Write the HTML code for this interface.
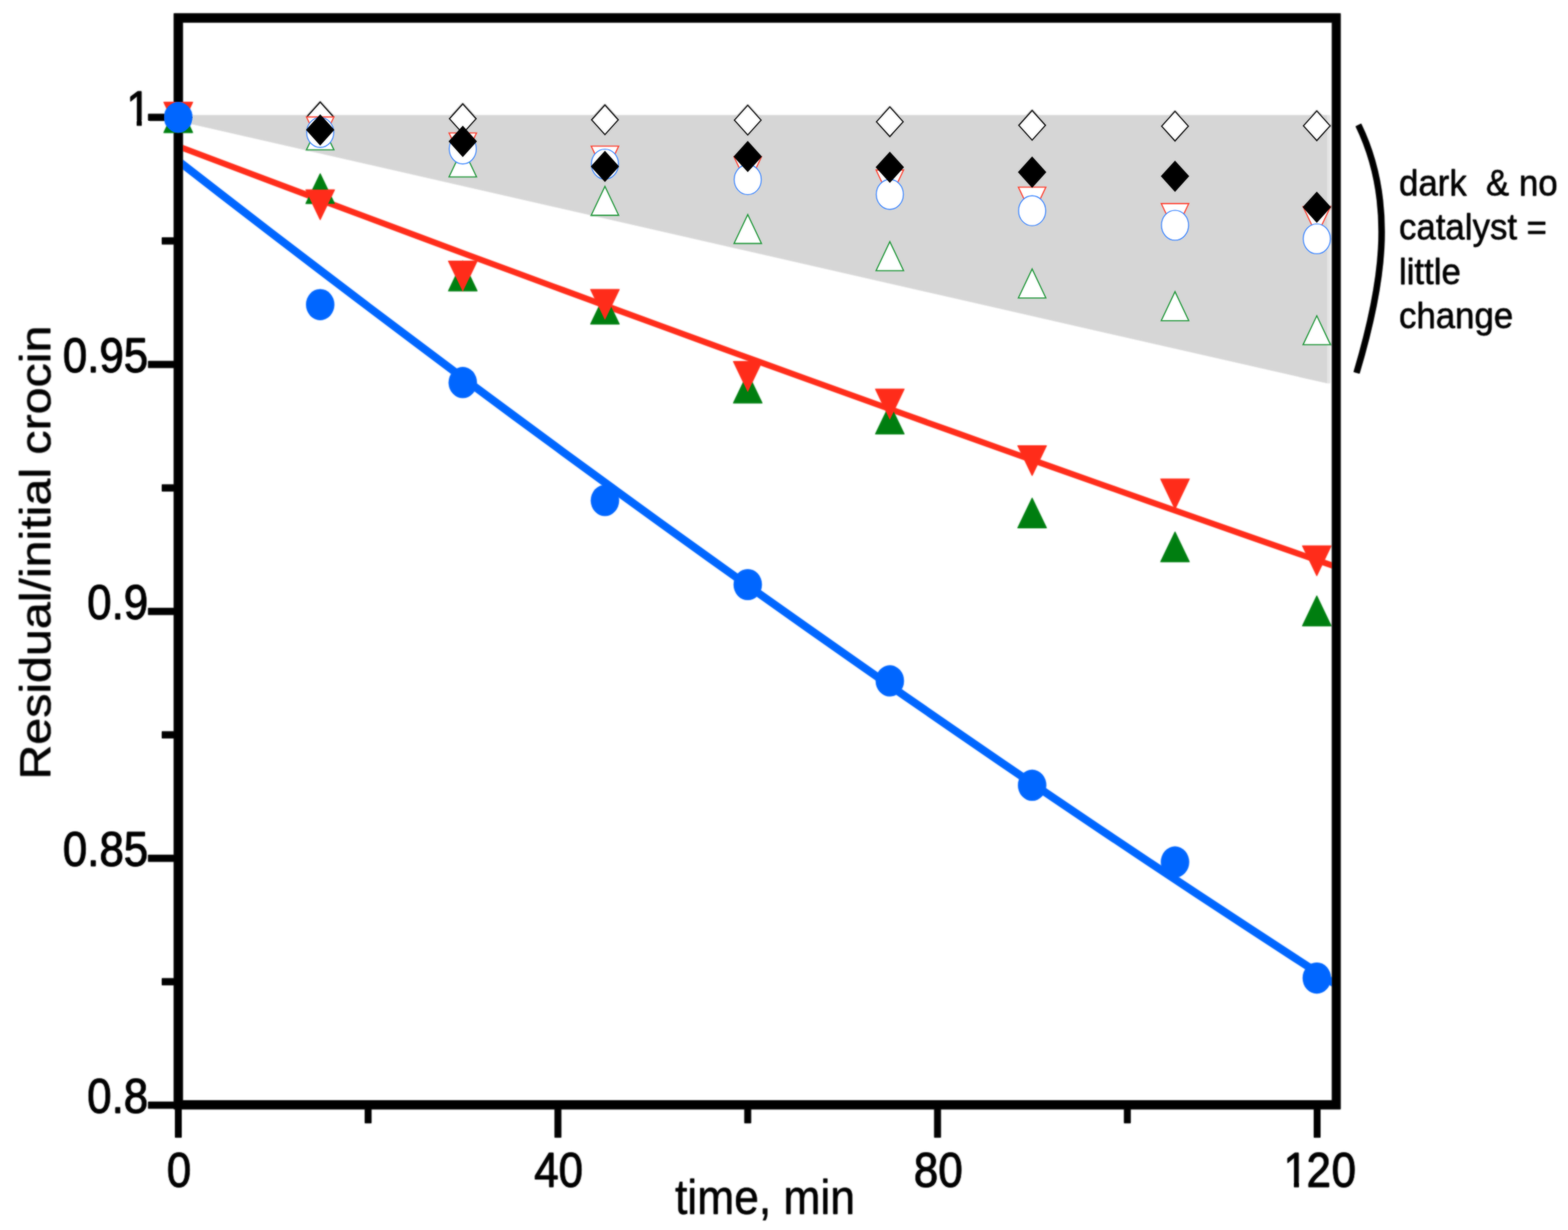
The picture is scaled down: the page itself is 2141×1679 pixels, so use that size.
<!DOCTYPE html>
<html lang="en"><head><meta charset="utf-8">
<title>Residual/initial crocin vs time</title>
<style>
html,body{margin:0;padding:0;background:#fff;}
body{width:2141px;height:1679px;overflow:hidden;}
svg{display:block;}
text{font-family:"Liberation Sans",sans-serif;fill:#000;stroke:#000;stroke-width:0.25px;stroke-linejoin:round;}
.ax{font-size:66.5px;}
.dg{font-size:66.5px;stroke-width:0.9px;}
.note{font-size:49.7px;stroke-width:0.3px;}
.ttl{font-size:66px;}
.soft{filter:blur(0.8px);}
</style></head><body>
<svg xmlns="http://www.w3.org/2000/svg" width="2141" height="1679" viewBox="0 0 2141 1679">
<rect x="0" y="0" width="2141" height="1679" fill="#fff"/>
<defs><clipPath id="plot"><rect x="249.65" y="30.65" width="1569" height="1471.3"/></clipPath></defs>
<g class="soft"><g id="fig">
<g id="shade">
<polygon points="249.65,157.3 1812.2,157.3 1812.2,523.091 249.65,166.518" fill="#d6d6d6"/>
<rect x="1812.2" y="157.3" width="4" height="365.791" fill="#e4e4e4"/>
</g>
<g id="fits" fill="none" clip-path="url(#plot)">
<polyline points="236,196.963 302.625,222.15 369.25,247.25 435.875,272.263 502.5,297.189 569.125,322.029 635.75,346.782 702.375,371.448 769,396.027 835.625,420.519 902.25,444.925 968.875,469.243 1035.5,493.475 1102.125,517.62 1168.75,541.678 1235.375,565.65 1302,589.534 1368.625,613.332 1435.25,637.043 1501.875,660.667 1568.5,684.204 1635.125,707.655 1701.75,731.018 1768.375,754.295 1835,777.485" stroke="#ff2d1a" stroke-width="7.8"/>
<polyline points="236,213.904 302.625,265.621 369.25,316.96 435.875,367.922 502.5,418.506 569.125,468.712 635.75,518.54 702.375,567.991 769,617.064 835.625,665.759 902.25,714.076 968.875,762.016 1035.5,809.577 1102.125,856.762 1168.75,903.568 1235.375,949.997 1302,996.047 1368.625,1041.721 1435.25,1087.016 1501.875,1131.934 1568.5,1176.474 1635.125,1220.636 1701.75,1264.42 1768.375,1307.827 1835,1350.856" stroke="#0066ff" stroke-width="10.3"/>
</g>
<g id="labels">
<text class="dg" text-anchor="start" transform="translate(172.4 170.8) scale(0.9 1)" xml:space="preserve">1</text>
<rect x="174.459" y="163.882" width="12.136" height="9.918" fill="#fff"/><rect x="193.595" y="163.882" width="10.769" height="9.918" fill="#fff"/>
<text class="dg" text-anchor="end" transform="translate(202.3 508.1) scale(0.9 1)" xml:space="preserve">0.95</text>
<text class="dg" text-anchor="end" transform="translate(202.3 845.2) scale(0.9 1)" xml:space="preserve">0.9</text>
<text class="dg" text-anchor="end" transform="translate(202.3 1182.2) scale(0.9 1)" xml:space="preserve">0.85</text>
<text class="dg" text-anchor="end" transform="translate(202.3 1519.2) scale(0.9 1)" xml:space="preserve">0.8</text>
<text class="dg" text-anchor="middle" transform="translate(244.5 1620.4) scale(0.9 1)" xml:space="preserve">0</text>
<text class="dg" text-anchor="middle" transform="translate(762.82 1620.4) scale(0.9 1)" xml:space="preserve">40</text>
<text class="dg" text-anchor="middle" transform="translate(1281.14 1620.4) scale(0.9 1)" xml:space="preserve">80</text>
<text class="dg" text-anchor="start" transform="translate(1752.5 1620.4) scale(0.9 1)" dx="0 -1.889 0.889">120</text>
<rect x="1754.559" y="1613.482" width="12.136" height="9.918" fill="#fff"/><rect x="1773.695" y="1613.482" width="10.769" height="9.918" fill="#fff"/>
<text class="ax" text-anchor="middle" transform="translate(1044.6 1657) scale(0.911 1)">time, min</text>
<text class="ttl" text-anchor="middle" transform="translate(68.3 754.3) rotate(-90) scale(1 0.91)" xml:space="preserve">Residual/initial crocin</text>
<text class="note" text-anchor="start" transform="translate(1910.2 266.8) scale(0.957 1)" xml:space="preserve">dark  &amp; no</text>
<text class="note" text-anchor="start" transform="translate(1910.2 327.3) scale(0.957 1)" xml:space="preserve">catalyst =</text>
<text class="note" text-anchor="start" transform="translate(1910.2 387.8) scale(0.957 1)" xml:space="preserve">little</text>
<text class="note" text-anchor="start" transform="translate(1910.2 448.3) scale(0.957 1)" xml:space="preserve">change</text>
</g>
<g id="frame" fill="#000">
<path fill-rule="evenodd" d="M237.3 18.3H1830.5V1514.3H237.3Z M249.65 30.65H1818.65V1501.95H249.65Z"/>
<rect x="202.3" y="155.5" width="37" height="9.4"/>
<rect x="202.3" y="492.8" width="37" height="9.4"/>
<rect x="202.3" y="829.9" width="37" height="9.4"/>
<rect x="202.3" y="1166.9" width="37" height="9.4"/>
<rect x="202.3" y="1503.9" width="37" height="9.4"/>
<rect x="221" y="324.15" width="18.3" height="9.4"/>
<rect x="221" y="661.35" width="18.3" height="9.4"/>
<rect x="221" y="998.4" width="18.3" height="9.4"/>
<rect x="221" y="1335.4" width="18.3" height="9.4"/>
<rect x="239" y="1512.3" width="9" height="40.5"/>
<rect x="757.32" y="1512.3" width="9" height="40.5"/>
<rect x="1275.64" y="1512.3" width="9" height="40.5"/>
<rect x="1793.96" y="1512.3" width="9" height="40.5"/>
<rect x="498.16" y="1512.3" width="9" height="20.9"/>
<rect x="1016.48" y="1512.3" width="9" height="20.9"/>
<rect x="1534.8" y="1512.3" width="9" height="20.9"/>
</g>
<g id="open-diamond">
<polygon points="243.4,139.99 261.61,160.2 243.4,180.41 225.19,160.2" fill="#fff" stroke="#111" stroke-width="1.7" stroke-linejoin="miter"/>
<polygon points="437.2,139.39 455.41,159.6 437.2,179.81 418.99,159.6" fill="#fff" stroke="#111" stroke-width="1.7" stroke-linejoin="miter"/>
<polygon points="631.9,141.89 650.11,162.1 631.9,182.31 613.69,162.1" fill="#fff" stroke="#111" stroke-width="1.7" stroke-linejoin="miter"/>
<polygon points="826,143.39 844.21,163.6 826,183.81 807.79,163.6" fill="#fff" stroke="#111" stroke-width="1.7" stroke-linejoin="miter"/>
<polygon points="1021,143.79 1039.21,164 1021,184.21 1002.79,164" fill="#fff" stroke="#111" stroke-width="1.7" stroke-linejoin="miter"/>
<polygon points="1215,145.99 1233.21,166.2 1215,186.41 1196.79,166.2" fill="#fff" stroke="#111" stroke-width="1.7" stroke-linejoin="miter"/>
<polygon points="1409.3,150.89 1427.51,171.1 1409.3,191.31 1391.09,171.1" fill="#fff" stroke="#111" stroke-width="1.7" stroke-linejoin="miter"/>
<polygon points="1604.4,151.99 1622.61,172.2 1604.4,192.41 1586.19,172.2" fill="#fff" stroke="#111" stroke-width="1.7" stroke-linejoin="miter"/>
<polygon points="1798,151.49 1816.21,171.7 1798,191.91 1779.79,171.7" fill="#fff" stroke="#111" stroke-width="1.7" stroke-linejoin="miter"/>
</g>
<g id="open-green">
<polygon points="243.4,140.91 262.16,180.45 224.64,180.45" fill="#fff" stroke="#1f9638" stroke-width="1.6" stroke-linejoin="miter"/>
<polygon points="437.2,165.01 455.96,204.55 418.44,204.55" fill="#fff" stroke="#1f9638" stroke-width="1.6" stroke-linejoin="miter"/>
<polygon points="631.9,201.91 650.66,241.45 613.14,241.45" fill="#fff" stroke="#1f9638" stroke-width="1.6" stroke-linejoin="miter"/>
<polygon points="826,254.31 844.76,293.85 807.24,293.85" fill="#fff" stroke="#1f9638" stroke-width="1.6" stroke-linejoin="miter"/>
<polygon points="1021,292.81 1039.76,332.35 1002.24,332.35" fill="#fff" stroke="#1f9638" stroke-width="1.6" stroke-linejoin="miter"/>
<polygon points="1215,329.91 1233.76,369.45 1196.24,369.45" fill="#fff" stroke="#1f9638" stroke-width="1.6" stroke-linejoin="miter"/>
<polygon points="1409.3,367.21 1428.06,406.75 1390.54,406.75" fill="#fff" stroke="#1f9638" stroke-width="1.6" stroke-linejoin="miter"/>
<polygon points="1604.4,398.21 1623.16,437.75 1585.64,437.75" fill="#fff" stroke="#1f9638" stroke-width="1.6" stroke-linejoin="miter"/>
<polygon points="1798,431.01 1816.76,470.55 1779.24,470.55" fill="#fff" stroke="#1f9638" stroke-width="1.6" stroke-linejoin="miter"/>
</g>
<g id="open-red">
<polygon points="243.4,179.49 262.16,139.95 224.64,139.95" fill="#fff" stroke="#ff4030" stroke-width="1.6" stroke-linejoin="miter"/>
<polygon points="437.2,199.19 455.96,159.65 418.44,159.65" fill="#fff" stroke="#ff4030" stroke-width="1.6" stroke-linejoin="miter"/>
<polygon points="631.9,220.99 650.66,181.45 613.14,181.45" fill="#fff" stroke="#ff4030" stroke-width="1.6" stroke-linejoin="miter"/>
<polygon points="826,238.99 844.76,199.45 807.24,199.45" fill="#fff" stroke="#ff4030" stroke-width="1.6" stroke-linejoin="miter"/>
<polygon points="1021,253.69 1039.76,214.15 1002.24,214.15" fill="#fff" stroke="#ff4030" stroke-width="1.6" stroke-linejoin="miter"/>
<polygon points="1215,271.69 1233.76,232.15 1196.24,232.15" fill="#fff" stroke="#ff4030" stroke-width="1.6" stroke-linejoin="miter"/>
<polygon points="1409.3,294.99 1428.06,255.45 1390.54,255.45" fill="#fff" stroke="#ff4030" stroke-width="1.6" stroke-linejoin="miter"/>
<polygon points="1604.4,317.39 1623.16,277.85 1585.64,277.85" fill="#fff" stroke="#ff4030" stroke-width="1.6" stroke-linejoin="miter"/>
<polygon points="1798,321.69 1816.76,282.15 1779.24,282.15" fill="#fff" stroke="#ff4030" stroke-width="1.6" stroke-linejoin="miter"/>
</g>
<g id="open-blue">
<ellipse cx="243.4" cy="160.2" rx="18.5" ry="20.4" fill="#fff" stroke="#3d86ff" stroke-width="1.4"/>
<ellipse cx="437.2" cy="180.8" rx="18.5" ry="20.4" fill="#fff" stroke="#3d86ff" stroke-width="1.4"/>
<ellipse cx="631.9" cy="203.3" rx="18.5" ry="20.4" fill="#fff" stroke="#3d86ff" stroke-width="1.4"/>
<ellipse cx="826" cy="224" rx="18.5" ry="20.4" fill="#fff" stroke="#3d86ff" stroke-width="1.4"/>
<ellipse cx="1021" cy="245.2" rx="18.5" ry="20.4" fill="#fff" stroke="#3d86ff" stroke-width="1.4"/>
<ellipse cx="1215" cy="265.4" rx="18.5" ry="20.4" fill="#fff" stroke="#3d86ff" stroke-width="1.4"/>
<ellipse cx="1409.3" cy="287.7" rx="18.5" ry="20.4" fill="#fff" stroke="#3d86ff" stroke-width="1.4"/>
<ellipse cx="1604.4" cy="307.5" rx="18.5" ry="20.4" fill="#fff" stroke="#3d86ff" stroke-width="1.4"/>
<ellipse cx="1798" cy="326" rx="18.5" ry="20.4" fill="#fff" stroke="#3d86ff" stroke-width="1.4"/>
</g>
<g id="black-diamond">
<polygon points="243.4,138.8 262.8,160.2 243.4,181.6 224,160.2" fill="#000"/>
<polygon points="437.2,155.9 456.6,177.3 437.2,198.7 417.8,177.3" fill="#000"/>
<polygon points="631.9,171.6 651.3,193 631.9,214.4 612.5,193" fill="#000"/>
<polygon points="826,205.8 845.4,227.2 826,248.6 806.6,227.2" fill="#000"/>
<polygon points="1021,192.3 1040.4,213.7 1021,235.1 1001.6,213.7" fill="#000"/>
<polygon points="1215,206.9 1234.4,228.3 1215,249.7 1195.6,228.3" fill="#000"/>
<polygon points="1409.3,213.6 1428.7,235 1409.3,256.4 1389.9,235" fill="#000"/>
<polygon points="1604.4,219.2 1623.8,240.6 1604.4,262 1585,240.6" fill="#000"/>
<polygon points="1798,261.4 1817.4,282.8 1798,304.2 1778.6,282.8" fill="#000"/>
</g>
<g id="filled-green">
<polygon points="243.4,139.15 263.6,181.25 223.2,181.25" fill="#007f10"/>
<polygon points="437.2,236.25 457.4,278.35 417,278.35" fill="#007f10"/>
<polygon points="631.9,355.35 652.1,397.45 611.7,397.45" fill="#007f10"/>
<polygon points="826,400.75 846.2,442.85 805.8,442.85" fill="#007f10"/>
<polygon points="1021,508.45 1041.2,550.55 1000.8,550.55" fill="#007f10"/>
<polygon points="1215,550.65 1235.2,592.75 1194.8,592.75" fill="#007f10"/>
<polygon points="1409.3,678.95 1429.5,721.05 1389.1,721.05" fill="#007f10"/>
<polygon points="1604.4,725.25 1624.6,767.35 1584.2,767.35" fill="#007f10"/>
<polygon points="1798,812.55 1818.2,854.65 1777.8,854.65" fill="#007f10"/>
</g>
<g id="filled-red">
<polygon points="243.4,181.25 263.6,139.15 223.2,139.15" fill="#ff2d1a"/>
<polygon points="437.2,300.75 457.4,258.65 417,258.65" fill="#ff2d1a"/>
<polygon points="631.9,398.05 652.1,355.95 611.7,355.95" fill="#ff2d1a"/>
<polygon points="826,436.75 846.2,394.65 805.8,394.65" fill="#ff2d1a"/>
<polygon points="1021,535.15 1041.2,493.05 1000.8,493.05" fill="#ff2d1a"/>
<polygon points="1215,572.95 1235.2,530.85 1194.8,530.85" fill="#ff2d1a"/>
<polygon points="1409.3,650.05 1429.5,607.95 1389.1,607.95" fill="#ff2d1a"/>
<polygon points="1604.4,695.65 1624.6,653.55 1584.2,653.55" fill="#ff2d1a"/>
<polygon points="1798,786.75 1818.2,744.65 1777.8,744.65" fill="#ff2d1a"/>
</g>
<g id="filled-blue">
<ellipse cx="243.4" cy="160.2" rx="19.2" ry="21.1" fill="#0066ff"/>
<ellipse cx="437.2" cy="415.8" rx="19.2" ry="21.1" fill="#0066ff"/>
<ellipse cx="631.9" cy="522.2" rx="19.2" ry="21.1" fill="#0066ff"/>
<ellipse cx="826" cy="683.2" rx="19.2" ry="21.1" fill="#0066ff"/>
<ellipse cx="1021" cy="798" rx="19.2" ry="21.1" fill="#0066ff"/>
<ellipse cx="1215" cy="929.4" rx="19.2" ry="21.1" fill="#0066ff"/>
<ellipse cx="1409.3" cy="1071.9" rx="19.2" ry="21.1" fill="#0066ff"/>
<ellipse cx="1604.4" cy="1176.7" rx="19.2" ry="21.1" fill="#0066ff"/>
<ellipse cx="1798" cy="1335.1" rx="19.2" ry="21.1" fill="#0066ff"/>
</g>
<path id="brace" d="M1854.8 170.7 C1908.2 280.7 1885.1 398.9 1852.3 508.9" fill="none" stroke="#000" stroke-width="8.4"/>
</g></g>
<use href="#fig" opacity="0.5"/>
</svg>
</body></html>
